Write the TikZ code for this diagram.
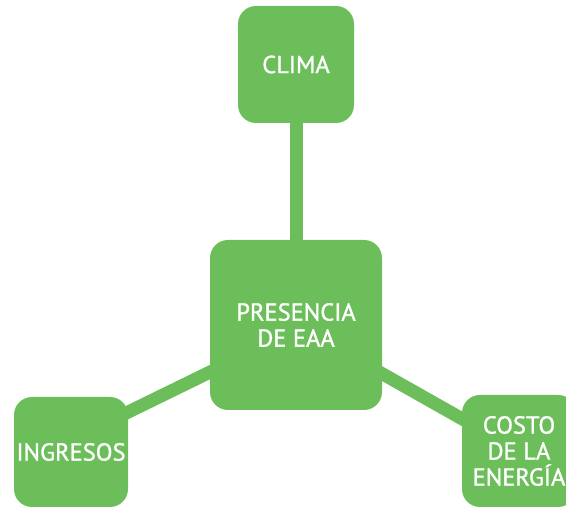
\documentclass[tikz,border=0pt]{standalone}
\usepackage{fontspec}
\setmainfont{PT Sans}
\newfontfamily\boxfont[FakeBold=1.2]{PT Sans}
\usetikzlibrary{backgrounds}
\definecolor{eaagreen}{RGB}{108,190,90}
\begin{document}
\begin{tikzpicture}[x=1pt,y=-1pt,
  box/.style={fill=eaagreen, rounded corners=18pt, inner sep=0pt, text=white,
    font=\boxfont\fontsize{24.5}{26}\selectfont, align=center},
  link/.style={draw=eaagreen, line width=13pt}]
\useasboundingbox (0,0) rectangle (566,510);
\clip (0,0) rectangle (566,510);
\node[box, minimum width=116pt, minimum height=117pt] (clima) at (296,64.5) {CLIMA};
\node[box, minimum width=172pt, minimum height=170pt] (eaa) at (296,325) {PRESENCIA\\DE EAA};
\node[box, minimum width=114pt, minimum height=110pt] (ingresos) at (71,452) {INGRESOS};
\node[box, minimum width=114pt, minimum height=112pt] (costo) at (519,451) {COSTO\\DE LA\\ENERGÍA};
\begin{scope}[on background layer]
\draw[link] (clima.center) -- (eaa.center);
\draw[link] ([yshift=12pt]ingresos.center) -- ([yshift=-5pt]eaa.center);
\draw[link] (eaa.center) -- (costo.center);
\end{scope}
\end{tikzpicture}
\end{document}
